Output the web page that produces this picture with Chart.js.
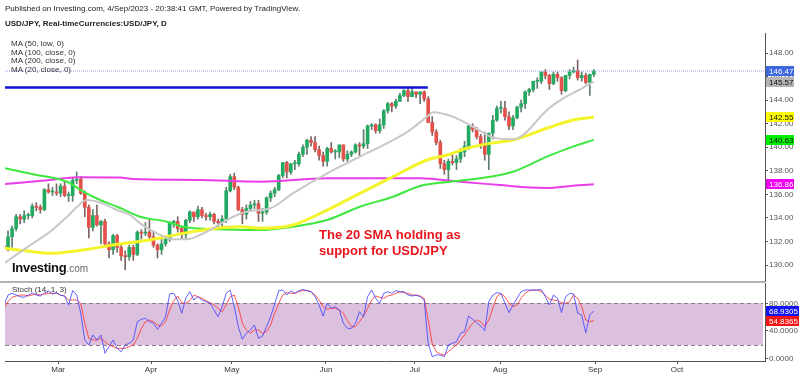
<!DOCTYPE html>
<html><head><meta charset="utf-8">
<script src="https://cdn.jsdelivr.net/npm/chart.js@4.4.0/dist/chart.umd.min.js"></script>
<style>
html,body{margin:0;padding:0;background:#fff;}
#wrap{position:relative;width:800px;height:376px;overflow:hidden;font-family:"Liberation Sans",Arial,sans-serif;}
.t{position:absolute;white-space:nowrap;color:#222;line-height:1;}
canvas{position:absolute;left:0;}
</style></head><body>
<div id="wrap">
<canvas id="price" width="800" height="282" style="top:0px"></canvas>
<canvas id="stoch" width="800" height="94" style="top:282px"></canvas>
<div style="position:absolute;left:0;top:281px;width:765px;height:2px;background:#b4b4b4"></div>
<div class="t" style="left:5px;top:5px;font-size:8px">Published on Investing.com, 4/Sep/2023 - 20:38:41 GMT, Powered by TradingView.</div>
<div class="t" style="left:5px;top:20px;font-size:8px;font-weight:bold">USD/JPY, Real-timeCurrencies:USD/JPY, D</div>
<div class="t" style="left:11px;top:40px;font-size:8px;color:#333">MA (50, low, 0)</div>
<div class="t" style="left:11px;top:48.5px;font-size:8px;color:#333">MA (100, close, 0)</div>
<div class="t" style="left:11px;top:57px;font-size:8px;color:#333">MA (200, close, 0)</div>
<div class="t" style="left:11px;top:65.5px;font-size:8px;color:#333">MA (20, close, 0)</div>
<div class="t" style="left:12px;top:261px;font-size:13px;font-weight:bold;color:#111;letter-spacing:-0.3px">Investing<span style="font-size:10px;font-weight:normal;color:#666;letter-spacing:0">.com</span></div>
<div class="t" style="left:319px;top:227px;font-size:13px;font-weight:bold;color:#e8161c;line-height:16px">The 20 SMA holding as<br>support for USD/JPY</div>
<div class="t" style="left:12px;top:286px;font-size:8px;color:#333">Stoch (14, 1, 3)</div>
</div>
<script>
// ---- Data ----
const opens  = [131.6,131.4,132.4,133.1,134.1,133.9,134.2,134.2,135.0,134.9,134.7,136.4,136.2,136.2,136.1,136.7,135.9,135.9,137.2,137.3,136.1,134.9,133.2,134.2,133.4,133.7,131.8,131.3,132.5,131.5,130.8,130.7,131.5,130.9,132.8,132.7,132.8,132.4,131.7,131.3,131.8,132.2,133.6,133.7,133.1,132.6,133.8,134.5,134.1,134.7,134.2,134.1,134.3,133.7,133.6,133.9,136.3,137.5,136.6,134.7,134.3,134.8,135.1,135.2,134.4,134.5,135.7,136.1,136.4,137.6,138.7,137.9,138.6,138.6,139.4,140.0,140.6,140.4,139.8,139.3,138.8,139.9,139.6,139.6,140.2,139.0,139.4,139.6,140.2,140.1,140.3,141.8,141.9,141.4,141.9,143.1,143.7,143.5,143.9,144.4,144.8,144.3,144.7,144.5,144.7,144.1,142.1,141.3,140.4,138.6,138.1,138.8,138.7,139.0,139.6,140.1,141.8,141.5,140.9,140.3,139.4,141.2,142.3,143.3,143.3,142.6,141.8,142.5,143.4,143.7,144.7,144.9,145.6,145.6,146.4,146.1,145.4,146.2,145.9,144.8,146.1,146.4,146.5,145.9,146.1,145.5,146.2];
const highs  = [131.9,132.9,133.3,134.3,134.3,134.6,134.4,135.2,135.3,135.1,136.5,136.9,136.6,136.9,136.9,137.1,136.2,137.4,137.9,137.5,136.3,135.1,134.7,135.1,133.8,133.9,132.0,132.6,132.6,131.7,131.2,131.7,131.7,132.9,133.0,133.6,133.8,132.8,131.8,132.2,132.4,133.7,133.8,134.1,133.2,133.9,134.6,134.5,135.0,134.9,134.4,134.5,134.4,133.9,134.2,136.6,137.7,137.8,136.7,134.9,135.1,135.4,135.5,135.5,134.8,135.8,136.3,136.6,137.7,138.7,138.8,138.6,138.9,139.6,140.2,140.7,140.9,140.9,140.1,139.6,140.0,140.4,139.8,140.2,140.2,139.7,139.7,140.3,140.4,141.5,141.9,142.0,142.0,142.4,143.2,143.8,143.8,144.1,144.6,144.9,145.1,145.1,144.7,144.7,144.8,144.3,142.6,141.5,140.6,138.9,139.0,139.4,139.3,139.9,140.5,141.9,142.0,141.7,141.1,141.3,141.2,142.7,143.5,143.9,143.9,143.0,142.7,143.5,144.0,144.8,145.0,145.6,145.9,146.4,146.6,146.2,146.4,146.4,146.0,146.1,146.6,146.8,147.4,146.4,146.3,146.2,146.6];
const lows   = [131.0,131.2,131.5,132.9,133.5,133.6,133.9,134.0,134.6,134.4,134.6,136.1,135.9,135.9,135.8,135.8,135.4,135.4,136.9,136.0,134.1,132.3,132.9,133.3,131.8,131.6,130.6,130.9,131.1,130.4,129.6,130.4,130.4,130.8,132.2,132.5,132.2,131.5,130.6,130.9,131.6,132.0,133.2,132.8,132.2,132.2,133.6,133.7,133.9,134.0,133.8,133.8,133.5,133.0,133.3,133.6,136.2,136.4,134.6,133.5,133.9,134.7,134.8,133.7,133.7,134.3,135.4,135.8,136.3,137.4,137.4,137.7,138.1,138.4,139.2,139.4,140.1,139.6,138.9,138.4,138.4,139.5,139.0,139.1,138.8,138.8,139.2,139.5,139.3,139.9,139.9,141.5,141.2,141.2,141.6,142.9,143.0,143.3,143.9,144.3,143.9,144.3,144.2,143.7,143.9,142.1,141.0,140.2,138.2,137.7,137.2,138.5,138.1,138.7,139.2,139.8,141.3,140.7,139.9,138.9,138.1,140.7,142.2,142.9,142.3,141.5,141.5,142.4,143.0,143.3,144.4,144.7,145.0,145.4,145.8,144.9,145.3,145.6,144.5,144.7,145.8,146.3,145.7,145.6,145.4,144.4,146.0];
const closes = [131.4,132.4,133.1,134.1,133.9,134.2,134.2,135.0,134.9,134.7,136.4,136.2,136.2,136.1,136.7,135.9,135.9,137.2,137.3,136.1,134.9,133.2,134.2,133.4,133.7,131.8,131.3,132.5,131.5,130.8,130.7,131.5,130.9,132.8,132.7,132.8,132.4,131.7,131.3,131.8,132.2,133.6,133.7,133.1,132.6,133.8,134.5,134.1,134.7,134.2,134.1,134.3,133.7,133.6,133.9,136.3,137.5,136.6,134.7,134.3,134.8,135.1,135.2,134.4,134.5,135.7,136.1,136.4,137.6,138.7,137.9,138.6,138.6,139.4,140.0,140.6,140.4,139.8,139.3,138.8,139.9,139.6,139.6,140.2,139.0,139.4,139.6,140.2,140.1,140.3,141.8,141.9,141.4,141.9,143.1,143.7,143.5,143.9,144.4,144.8,144.3,144.7,144.5,144.7,144.1,142.1,141.3,140.4,138.6,138.1,138.8,138.7,139.0,139.6,140.1,141.8,141.5,140.9,140.3,139.4,141.2,142.3,143.3,143.3,142.6,141.8,142.5,143.4,143.7,144.7,144.9,145.6,145.6,146.4,146.1,145.4,146.2,145.9,144.8,146.1,146.4,146.5,145.9,146.1,145.5,146.2,146.47];

// Moving averages: [bar position, value]
const ma20Pos  = [0.25,7.2,11.4,15.6,18.1,20.5,23.8,28,31.2,33.7,37.9,41.8,45.3,50.2,56.7,60.9,65.8,71.5,80,88.1,96.3,100.5,104.7,106.2,111.1,116.1,121,126,128.5,134.4,138.4,142.6,146];
const ma20Val  = [130.20,131.85,132.83,134.10,134.95,135.52,135.31,134.67,134.25,133.54,132.69,132.19,132.19,132.83,134.10,134.59,134.80,136.09,137.79,139.20,140.61,141.46,142.59,142.97,142.59,141.74,140.84,140.67,141.04,143.16,144.15,144.92,145.57];
const ma50Pos  = [0.25,7.2,11.4,19.6,28,36.1,44.3,52.7,58.4,63.4,71.5,80,88.1,96.3,104.7,109.7,114.6,120.3,126,134.4,140.8,146];
const ma50Val  = [131.42,131.13,131.0,131.28,131.76,132.13,132.69,133.12,133.25,133.12,133.40,134.67,136.09,137.50,138.92,139.34,139.91,140.33,140.61,141.61,142.31,142.55];
const ma100Pos = [0.25,7.2,15.6,19.6,23.8,28,33.7,40.3,44.3,52.7,63.4,71.5,80,88.1,96.3,103,109.7,117.8,126,134.4,140.8,146];
const ma100Val = [138.21,137.70,137.07,136.23,135.52,134.95,134.10,133.68,133.25,133.03,132.97,133.25,133.82,134.95,135.80,136.71,137.05,137.36,137.92,139.20,140.05,140.63];
const ma200Pos = [0.25,11.4,18.1,28.7,31.9,48.5,63.4,80,103,112.9,122.8,130.2,134.4,140.8,146];
const ma200Val = [136.88,137.22,137.45,137.43,137.30,137.22,137.07,137.36,137.36,137.07,136.79,136.58,136.54,136.74,136.86];

const resistanceLevel = 145.07;
const resistanceEndPos = 104.9;
const lastPrice = 146.47;

// Stochastic (14,1,3)
const stochK = [77.5,92,94.5,92,89.6,88.7,92,95,92,90.6,95,98,93.5,95.5,91.6,90.6,77.5,98.4,92,65.5,26.6,19.4,33.9,26.6,33.9,7.3,16.9,26.6,14.5,9.6,19.4,21.8,26.6,53.2,56.7,58.2,53.2,50.9,42.2,50.9,60.5,93.5,94.5,83.8,65.5,87.3,96.9,84.8,89.6,84.8,82.3,80,70.3,60.5,75.1,94.5,99.3,75.1,46,27.6,36.4,41.2,48.4,29.1,32.4,46,60.5,79,98.4,99.3,92,98,94.5,98.4,100,98.4,96.9,89.6,77.5,61.5,80,72.7,75.1,70.3,50.9,43.6,43.6,50.9,67.8,60.5,89.6,99.3,87.3,80,94.5,96.9,94.5,98.4,96.9,96.9,92,90.6,92,89.6,84.8,21.8,2.4,4.8,4.8,2.4,19.4,21.8,24.2,36.4,38.8,61.5,56.7,51.8,47,40.2,82.3,92,95.5,94.5,80,66.4,77.5,87.3,96.9,99.3,99.3,99.3,99.3,100,89.6,77.5,92,87.3,66.4,89.6,94.5,93.5,65.5,63,37.3,63,68.93];
const stochD = [72.7,82.3,88.7,90.6,92,92,90.6,92,93.5,92,93.5,94.5,94.5,94.5,92,90.6,84.8,84.8,84.8,80,50.9,29.1,26.6,26.6,29.1,24.2,19.4,16.9,14.5,14.5,14.5,16.9,19.4,29.1,43.6,53.2,55.7,53.2,48.4,47,53.2,70.3,83.8,90.6,80.8,80,83.8,92,89.6,87.3,83.8,80.8,77.5,72.7,67.8,77.5,89.6,92,75.1,50.9,41.2,36.4,41.2,41.2,36.4,38.8,48.4,65.5,80,92,95.5,94.5,94.5,96.9,98.4,98.4,96.9,92,84.8,75.1,71.2,72.7,72.7,70.3,65.5,54.7,46,46,53.2,61.5,72.7,84.8,90.6,88.7,87.3,90.6,92,94.5,96.9,95.5,94.5,92,92,90.6,87.3,55.7,21.8,9.6,6.3,4.8,9.6,14.5,19.4,26.6,33.9,43.6,50.9,55.7,53.2,46,55.7,72.7,89.6,94.5,89.6,80,75.1,77.5,87.3,94.5,98.4,99.3,99.3,96.9,92,86,84.8,83.8,80.8,80,82.3,92,87.3,75.1,55.7,53.2,54.84];

const priceTicks = [130,132,134,136,138,140,142,144,146,148];
const stochTicks = [0,40,80];
const monthPos = [13.4,36.4,56.4,79.7,101.7,122.8,146.3,166.6];
const monthLabels = ['Mar','Apr','May','Jun','Jul','Aug','Sep','Oct'];
const priceTags = [146.47,145.57,142.55,140.63,136.86];
const priceTagText = ['146.47','145.57','142.55','140.63','136.86'];
const stochTags = [68.9305,54.8365];
const stochTagText = ['68.9305','54.8365'];

// ---- Chart building ----
const FONT = '"Liberation Sans", Arial, sans-serif';
Chart.defaults.font.family = FONT;
const X_MIN = 0.25, X_MAX = 188.37;
const idx = closes.map((_, i) => i);
const up = i => closes[i] >= opens[i];
const pts = (p, v) => p.map((x, k) => ({x: x, y: v[k]}));
const noPad = s => { s.paddingTop = 0; s.paddingBottom = 0; s.paddingLeft = 0; s.paddingRight = 0; };

const tagPlugin = {
  id: 'tags',
  afterDraw(chart, args, opts) {
    const ctx = chart.ctx, ys = chart.scales.y, x0 = chart.chartArea.right + 1;
    ctx.save();
    ctx.font = '8px ' + FONT; ctx.textBaseline = 'middle'; ctx.textAlign = 'left';
    (opts.items || []).forEach(b => {
      const y = Math.round(ys.getPixelForValue(b.v));
      ctx.fillStyle = b.bg; ctx.fillRect(x0, y - 5, b.w, 10);
      ctx.fillStyle = b.fg; ctx.fillText(b.t, x0 + 3, y + 0.5);
    });
    ctx.restore();
  }
};

const zonePlugin = {
  id: 'zone',
  beforeDatasetsDraw(chart) {
    const {ctx, chartArea: a, scales: {y}} = chart;
    const y80 = Math.round(y.getPixelForValue(80)), y20 = Math.round(y.getPixelForValue(20));
    ctx.save();
    ctx.fillStyle = '#dcc1de';
    ctx.fillRect(a.left, y80, a.right - a.left - 2, y20 - y80);
    ctx.strokeStyle = '#8a7a8c'; ctx.lineWidth = 1; ctx.setLineDash([4, 3]);
    [y80, y20].forEach(yy => { ctx.beginPath(); ctx.moveTo(a.left, yy + 0.5); ctx.lineTo(a.right - 2, yy + 0.5); ctx.stroke(); });
    ctx.restore();
  }
};

const lineDs = (data, color, w, order) => ({type: 'line', data, borderColor: color, borderWidth: w, pointRadius: 0, cubicInterpolationMode: 'monotone', order});

new Chart(document.getElementById('price'), {
  type: 'bar',
  data: { datasets: [
    lineDs(pts(ma20Pos, ma20Val), '#c8c8c8', 2, 1),
    lineDs(pts(ma50Pos, ma50Val), '#f4f42a', 3, 2),
    lineDs(pts(ma100Pos, ma100Val), '#3ee83e', 2, 3),
    lineDs(pts(ma200Pos, ma200Val), '#e83ee8', 2, 4),
    {type: 'line', data: [{x: X_MIN, y: resistanceLevel}, {x: resistanceEndPos, y: resistanceLevel}], borderColor: '#1212d6', borderWidth: 2.5, pointRadius: 0, order: 0},
    {type: 'line', data: [{x: X_MIN, y: lastPrice}, {x: X_MAX, y: lastPrice}], borderColor: '#93a3ee', borderWidth: 1, borderDash: [1, 1], pointRadius: 0, order: 5},
    {type: 'bar', data: idx.map(i => ({x: i, y: [opens[i], closes[i]]})), backgroundColor: idx.map(i => up(i) ? '#22aa62' : '#e4514a'),
      borderWidth: 0, barThickness: 3, minBarLength: 1, grouped: false, order: 6},
    {type: 'bar', data: idx.map(i => ({x: i, y: [lows[i], highs[i]]})), backgroundColor: idx.map(i => up(i) ? '#5d7f6c' : '#7d6461'),
      barThickness: 1, grouped: false, order: 7}
  ]},
  options: {
    responsive: false, animation: false, events: [],
    layout: {padding: {left: 5, top: 33, right: 0, bottom: 0}},
    plugins: {legend: {display: false}, tooltip: {enabled: false},
      tags: {items: priceTags.map((v, k) => ({v, t: priceTagText[k], w: 28,
        bg: ['#3d68e0', '#b4b4b4', '#ffff00', '#00ee00', '#f000f0'][k],
        fg: ['#fff', '#111', '#111', '#111', '#fff'][k]}))}},
    scales: {
      x: {type: 'linear', min: X_MIN, max: X_MAX, offset: false, display: false},
      y: {type: 'linear', position: 'right', min: 128.56, max: 149.70,
        afterFit(s) { s.width = 35; noPad(s); },
        afterBuildTicks(s) { s.ticks = priceTicks.map(v => ({value: v})); },
        ticks: {callback: v => Number(v).toFixed(2), font: {size: 8}, color: '#555', padding: 1},
        grid: {drawOnChartArea: false, tickLength: 3, tickColor: '#555'},
        border: {display: true, color: '#555', width: 1}}
    }
  },
  plugins: [tagPlugin]
});

new Chart(document.getElementById('stoch'), {
  type: 'line',
  data: { datasets: [
    {data: idx.map(i => ({x: i, y: stochK[i]})), borderColor: 'rgba(70,70,255,0.85)', borderWidth: 1, pointRadius: 0, order: 1},
    {data: idx.map(i => ({x: i, y: stochD[i]})), borderColor: 'rgba(255,55,55,0.85)', borderWidth: 1, pointRadius: 0, order: 2}
  ]},
  options: {
    responsive: false, animation: false, events: [],
    layout: {padding: {left: 5, top: 1, right: 0, bottom: 0}},
    plugins: {legend: {display: false}, tooltip: {enabled: false},
      tags: {items: stochTags.map((v, k) => ({v, t: stochTagText[k], w: 33, bg: ['#1414f5', '#f51414'][k], fg: '#fff'}))}},
    scales: {
      x: {type: 'linear', min: X_MIN, max: X_MAX, offset: false, position: 'bottom',
        afterFit(s) { s.height = 15; noPad(s); },
        afterBuildTicks(s) { s.ticks = monthPos.map(v => ({value: v})); },
        ticks: {callback: (v, i) => monthLabels[i], autoSkip: false, maxRotation: 0, font: {size: 8}, color: '#333', padding: 1},
        grid: {drawOnChartArea: false, tickLength: 3, tickColor: '#555'},
        border: {display: true, color: '#555', width: 1}},
      y: {type: 'linear', position: 'right', min: -3.93, max: 109.53,
        afterFit(s) { s.width = 35; noPad(s); },
        afterBuildTicks(s) { s.ticks = stochTicks.map(v => ({value: v})); },
        ticks: {callback: v => Number(v).toFixed(4), font: {size: 8}, color: '#555', padding: 1},
        grid: {drawOnChartArea: false, tickLength: 3, tickColor: '#555'},
        border: {display: true, color: '#555', width: 1}}
    }
  },
  plugins: [zonePlugin, tagPlugin]
});
</script>
</body></html>
